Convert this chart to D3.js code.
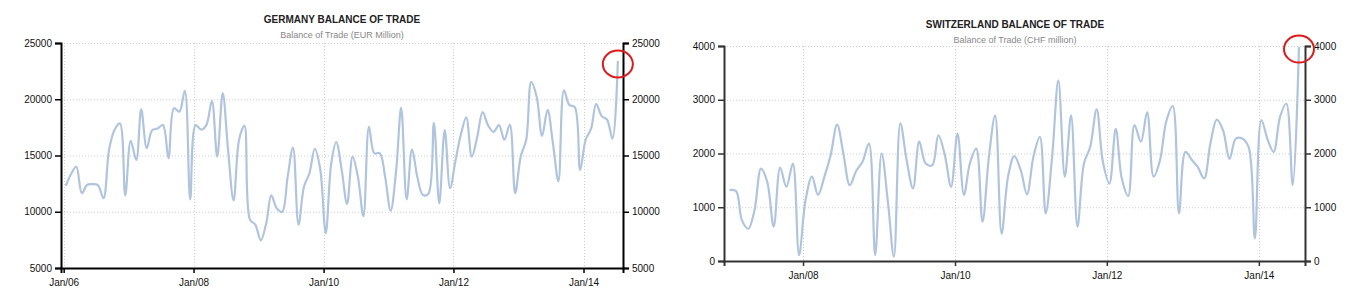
<!DOCTYPE html>
<html>
<head>
<meta charset="utf-8">
<script src="https://cdn.jsdelivr.net/npm/d3@7"></script>
<style>
body { margin: 0; background: #fff; }
svg { display: block; }
.axis text { font-family: "Liberation Sans", Arial, sans-serif; font-size: 10px; fill: #111; }
.title { font-family: "Liberation Sans", Arial, sans-serif; font-size: 10px; font-weight: bold; fill: #222; }
.subtitle { font-family: "Liberation Sans", Arial, sans-serif; font-size: 9px; fill: #888; }
</style>
</head>
<body>
<svg id="chart" width="1350" height="301"></svg>
<script>
// Germany, monthly, Jan 2006 .. Jul 2014 (EUR million)
var germanyStart = [2006, 0];
var germanyValues = [12300, 13400, 14000, 11650, 12400, 12450, 12350, 11200, 15500, 17250, 17850, 11450,
	16300, 14600, 19100, 15650, 17250, 17400, 17700, 14750, 19200, 18900, 20750, 11100,
	17700, 17300, 17700, 19850, 14900, 20550, 15500, 11000, 16400, 17650, 9300, 8850,
	7450, 9000, 11450, 10300, 10000, 13100, 15700, 8850, 12250, 13400, 15600, 13800,
	8100, 14300, 16200, 13700, 10700, 14900, 13100, 9600, 17550, 15200, 15200, 13100,
	10100, 13700, 19250, 11100, 15550, 13000, 11500, 11600, 17900, 10750, 17250, 12100,
	14600, 16950, 18400, 14900, 16600, 18850, 17700, 17100, 17700, 16400, 17750, 11650,
	14900, 16400, 21550, 20200, 16750, 19050, 16100, 12700, 20800, 19500, 19300, 13700,
	16400, 17400, 19600, 18500, 18200, 16500, 23400];
var germanyYTicks = [5000, 10000, 15000, 20000, 25000];
var germanyXTicks = ["Jan/06", "Jan/08", "Jan/10", "Jan/12", "Jan/14"];

// Switzerland, monthly, Jan 2007 .. Jul 2014 (CHF million)
var swissStart = [2007, 0];
var swissValues = [1320, 1300, 760, 600, 950, 1720, 1470, 640, 1740, 1380, 1810, 110,
	1130, 1570, 1230, 1570, 1970, 2540, 2000, 1410, 1680, 1845, 2185, 110,
	2000, 1070, 80, 2560, 1880, 1350, 2220, 1815, 1780, 2340, 1970, 1380,
	2370, 1230, 1810, 2090, 730, 1940, 2710, 510, 1570, 1950, 1690, 1240,
	1940, 2310, 885, 1940, 3360, 1570, 2710, 640, 1815, 2120, 2820, 1845,
	1440, 2460, 1535, 1210, 2530, 2220, 2770, 1570, 1880, 2600, 2880, 885,
	2030, 1880, 1750, 1535, 2185, 2630, 2430, 1900, 2280, 2280, 2120, 420,
	2620, 2250, 2030, 2680, 2930, 1410, 3980];
var swissYTicks = [0, 1000, 2000, 3000, 4000];
var swissXTicks = ["Jan/08", "Jan/10", "Jan/12", "Jan/14"];

var svg = d3.select("#chart");
var parseTick = d3.timeParse("%b/%y");

function toSeries(start, values) {
	return values.map(function(v, i) {
		return { date : new Date(start[0], start[1] + i, 13), value : v };
	});
}// END: toSeries

function generateChart(cfg) {

	var data = toSeries(cfg.start, cfg.values);
	var g = svg.append("g");

	var x = d3.scaleTime() //
	.domain([ d3.timeDay.offset(data[0].date, -27),
			d3.timeDay.offset(data[data.length - 1].date, 29) ]) //
	.range([ cfg.left, cfg.right ]);

	var y = d3.scaleLinear() //
	.domain([ cfg.yTicks[0], cfg.yTicks[cfg.yTicks.length - 1] ]) //
	.range([ cfg.bottom, cfg.top ]);

	var tickDates = cfg.xTicks.map(parseTick);

	// grid
	g.selectAll("line.hgrid").data(cfg.yTicks).enter().append("line") //
	.attr("x1", cfg.left).attr("x2", cfg.right) //
	.attr("y1", function(d) { return y(d) + 0.5; }) //
	.attr("y2", function(d) { return y(d) + 0.5; }) //
	.attr("stroke", "#ccc").attr("stroke-dasharray", "1,2");

	g.selectAll("line.vgrid").data(tickDates).enter().append("line") //
	.attr("x1", function(d) { return Math.round(x(d)) + 0.5; }) //
	.attr("x2", function(d) { return Math.round(x(d)) + 0.5; }) //
	.attr("y1", cfg.top).attr("y2", cfg.bottom) //
	.attr("stroke", "#ccc").attr("stroke-dasharray", "1,2");

	// line
	var clipId = "clip" + cfg.id;
	g.append("clipPath").attr("id", clipId).append("rect") //
	.attr("x", cfg.left).attr("y", cfg.top - 5) //
	.attr("width", cfg.right - cfg.left).attr("height", cfg.bottom - cfg.top + 5);

	var line = d3.line() //
	.x(function(d) { return x(d.date); }) //
	.y(function(d) { return y(d.value); }) //
	.curve(d3.curveCatmullRom.alpha(0.5));

	g.append("path").datum(data) //
	.attr("clip-path", "url(#" + clipId + ")") //
	.attr("d", line) //
	.attr("fill", "none") //
	.attr("stroke", "#b0c4de") //
	.attr("stroke-width", 2.2);

	// axes
	var yLeft = d3.axisLeft(y).tickValues(cfg.yTicks).tickSize(6).tickPadding(3).tickFormat(d3.format("d"));
	var yRight = d3.axisRight(y).tickValues(cfg.yTicks).tickSize(6).tickPadding(3).tickFormat(d3.format("d"));
	var xBottom = d3.axisBottom(x).tickValues(tickDates).tickSize(5).tickPadding(6).tickFormat(d3.timeFormat("%b/%y"));

	[ [ yLeft, "translate(" + cfg.left + ",0)" ],
			[ yRight, "translate(" + cfg.right + ",0)" ],
			[ xBottom, "translate(0," + cfg.bottom + ")" ] ].forEach(function(a) {
		var ax = g.append("g").attr("class", "axis") //
		.attr("transform", a[1]).call(a[0]);
		ax.select(".domain").attr("stroke", cfg.axisColor).attr("stroke-width", 2);
		ax.selectAll(".tick line").attr("stroke", cfg.axisColor).attr("stroke-width", 1.5);
	});

	// titles
	g.append("text").attr("class", "title") //
	.attr("x", cfg.cx).attr("y", cfg.titleY) //
	.attr("text-anchor", "middle").text(cfg.title);

	g.append("text").attr("class", "subtitle") //
	.attr("x", cfg.cx).attr("y", cfg.titleY + 15) //
	.attr("text-anchor", "middle").text(cfg.subtitle);

	// highlight on latest value
	var last = data[data.length - 1];
	g.append("ellipse") //
	.attr("cx", x(last.date)) //
	.attr("cy", y(last.value) + cfg.markOffset) //
	.attr("rx", 15).attr("ry", 13.5) //
	.attr("fill", "none") //
	.attr("stroke", "#e0191b") //
	.attr("stroke-width", 2);

}// END: generateChart

generateChart({
	id : "de",
	start : germanyStart,
	values : germanyValues,
	yTicks : germanyYTicks,
	xTicks : germanyXTicks,
	left : 61, right : 623, top : 43, bottom : 268,
	cx : 342, titleY : 23,
	title : "GERMANY BALANCE OF TRADE",
	subtitle : "Balance of Trade (EUR Million)",
	axisColor : "#000",
	markOffset : 3
});

generateChart({
	id : "ch",
	start : swissStart,
	values : swissValues,
	yTicks : swissYTicks,
	xTicks : swissXTicks,
	left : 724, right : 1305, top : 46, bottom : 261,
	cx : 1015, titleY : 28,
	title : "SWITZERLAND BALANCE OF TRADE",
	subtitle : "Balance of Trade (CHF million)",
	axisColor : "#333",
	markOffset : 2
});
</script>
</body>
</html>
